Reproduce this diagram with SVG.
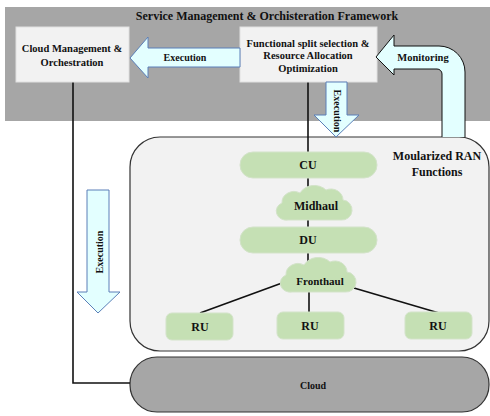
<svg xmlns="http://www.w3.org/2000/svg" width="490" height="416" viewBox="0 0 490 416">
<style>
text{font-family:"Liberation Serif","Times New Roman",serif;font-weight:bold;fill:#111;text-anchor:middle;dominant-baseline:central}
.t{font-size:10.5px}
.b{font-size:12px}
.box{fill:#f2f2f2;stroke:#e0e0e0;stroke-width:1}
.g{fill:#c5e0b4;stroke:#d3e3c9;stroke-width:1}
.arr{fill:#e3ffff;stroke:#5b7fb8;stroke-width:1}
.ln{stroke:#111;stroke-width:1.6;fill:none}
</style>
<defs>
<path id="cloud" d="M 288 220 A 10 9 0 0 1 282 203 A 12 11 0 0 1 300 193 A 16 14 0 0 1 326 190 A 12 11 0 0 1 343 200 A 10 10 0 0 1 341 220 Z"/>
</defs>
<g id="framework">
<rect x="5" y="7" width="485" height="114" fill="#a6a6a6"/>
<text class="b" x="267" y="16">Service Management &amp; Orchisteration Framework</text>
</g>
<g id="ran">
<rect x="130" y="137" width="359" height="214" rx="30" ry="30" fill="#f2f2f2" stroke="#333" stroke-width="1.2"/>
<text class="b" x="437" y="156">Moularized RAN</text>
<text class="b" x="437" y="172">Functions</text>
</g>
<g id="cloud-layer">
<rect x="130" y="357" width="359" height="55" rx="27" ry="27" fill="#a6a6a6" stroke="#333" stroke-width="1.2"/>
<text x="313" y="385" style="font-size:10px">Cloud</text>
</g>
<g id="connectors">
<polyline class="ln" points="73,82 73,383 130,383"/>
<line class="ln" x1="308" y1="82" x2="308" y2="152"/>
<line class="ln" x1="308" y1="178" x2="308" y2="188"/>
<line class="ln" x1="308" y1="219" x2="308" y2="227"/>
<line class="ln" x1="308" y1="253" x2="308" y2="262"/>
<line class="ln" x1="282" y1="283" x2="200" y2="313"/>
<line class="ln" x1="309" y1="292" x2="309" y2="312"/>
<line class="ln" x1="354" y1="288" x2="439" y2="313"/>
</g>
<g id="cloud-mgmt">
<rect class="box" x="16" y="27" width="113" height="55"/>
<text class="t" x="72" y="48">Cloud Management &amp;</text>
<text class="t" x="72" y="62">Orchestration</text>
</g>
<g id="functional-split">
<rect class="box" x="240" y="27" width="137" height="55"/>
<text class="t" x="308" y="43">Functional split selection &amp;</text>
<text class="t" x="308" y="55">Resource Allocation</text>
<text class="t" x="308" y="68">Optimization</text>
</g>
<g id="exec-left-arrow">
<polygon class="arr" points="240,48 148,48 148,37 130,58 148,78 148,67 240,67"/>
<text class="t" x="185" y="57" style="font-size:10px">Execution</text>
</g>
<g id="monitoring-arrow">
<path d="M 465 137 L 465 72 A 26 26 0 0 0 439 46 L 394 46 L 394 35 L 376 57 L 394 75 L 394 69 L 437 69 A 5 5 0 0 1 442 74 L 442 137" fill="#e3ffff" stroke="#111" stroke-width="1"/>
<text class="t" x="423" y="57">Monitoring</text>
</g>
<g id="exec-mid-arrow">
<polygon class="arr" points="326,82 347,82 347,115 359,115 336,137 314,115 326,115"/>
<text transform="translate(337,111) rotate(90)" style="font-size:10px">Execution</text>
</g>
<g id="exec-down-arrow">
<polygon class="arr" points="87,190 109,190 109,292 120,292 98,313 77,292 87,292"/>
<text transform="translate(99,252) rotate(-90)" style="font-size:10px">Execution</text>
</g>
<g id="cu">
<rect class="g" x="240" y="152" width="137" height="26" rx="13" ry="13"/>
<text class="b" x="308" y="165">CU</text>
</g>
<g id="midhaul">
<use href="#cloud" class="g"/>
<text class="b" x="316" y="206">Midhaul</text>
</g>
<g id="du">
<rect class="g" x="240" y="227" width="137" height="26" rx="13" ry="13"/>
<text class="b" x="308" y="240">DU</text>
</g>
<g id="fronthaul">
<use href="#cloud" class="g" transform="translate(4,72)"/>
<text x="320" y="281" style="font-size:11px">Fronthaul</text>
</g>
<g id="ru1">
<rect class="g" x="166" y="313" width="67" height="27" rx="6" ry="6"/>
<text class="b" x="200" y="327">RU</text>
</g>
<g id="ru2">
<rect class="g" x="277" y="312" width="67" height="27" rx="6" ry="6"/>
<text class="b" x="310" y="326">RU</text>
</g>
<g id="ru3">
<rect class="g" x="405" y="312" width="67" height="27" rx="6" ry="6"/>
<text class="b" x="438" y="326">RU</text>
</g>
</svg>
